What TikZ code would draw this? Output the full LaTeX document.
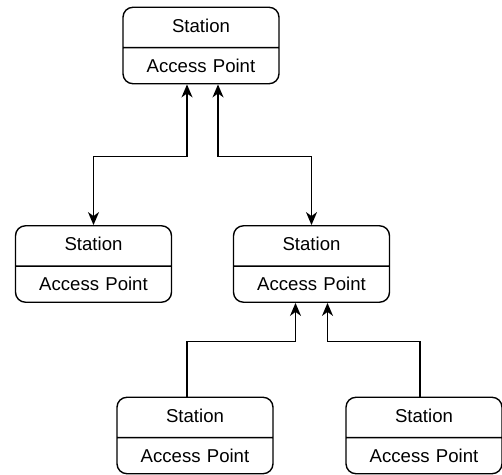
\documentclass[tikz,border=0pt]{standalone}
\usepackage{fontspec}
\setmainfont{Liberation Sans}
\usetikzlibrary{shapes.multipart,arrows.meta,calc}

\begin{document}
\begin{tikzpicture}[
  x=0.5pt,y=-0.5pt,
  font=\fontsize{9.3}{11}\selectfont,
  station/.style={draw,line width=0.7pt,rounded corners=5pt,rectangle split,rectangle split parts=2,
    text width=70pt,align=center,inner xsep=4pt,inner ysep=5.25pt,text height=7pt,text depth=2pt},
  link/.style={line width=0.7pt,{Stealth[length=6.5pt,width=5.5pt,inset=2pt]}-{Stealth[length=6.5pt,width=5.5pt,inset=2pt]}},
  uplink/.style={line width=0.7pt,-{Stealth[length=6.5pt,width=5.5pt,inset=2pt]}}]
  \useasboundingbox (0,0) rectangle (502,475);
  % root
  \node[station] (root) at (201,45.5) {Station\nodepart{two}Access Point};
  % second level
  \node[station] (left) at (93.5,264) {Station\nodepart{two}Access Point};
  \node[station] (mid) at (311.5,264) {Station\nodepart{two}Access Point};
  % third level
  \node[station] (lowa) at (195,435.5) {Station\nodepart{two}Access Point};
  \node[station] (lowb) at (424,435.5) {Station\nodepart{two}Access Point};
  \draw[link] ([xshift=-7pt]root.south) -- ++(0,72) -| (left.north);
  \draw[link] ([xshift=8.5pt]root.south) -- ++(0,72) -| (mid.north);
  \draw[uplink] ([xshift=-4pt]lowa.north) -- ++(0,-55) -| ([xshift=-8pt]mid.south);
  \draw[uplink] ([xshift=-2pt]lowb.north) -- ++(0,-55) -| ([xshift=8pt]mid.south);
\end{tikzpicture}
\end{document}
